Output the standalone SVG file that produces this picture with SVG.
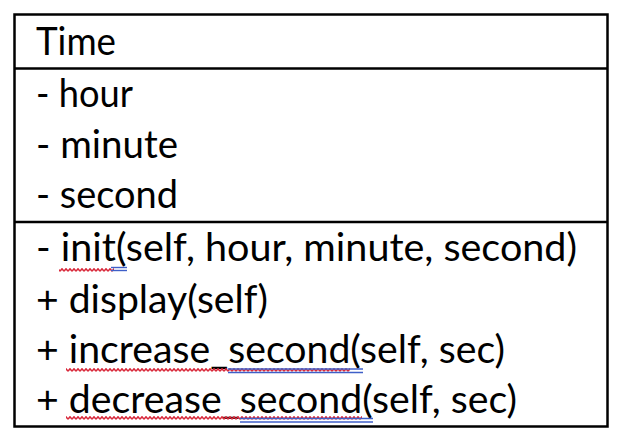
<svg xmlns="http://www.w3.org/2000/svg" width="620" height="446" viewBox="0 0 620 446">
  <defs>
    <style>
      .frame { fill: none; stroke: #000; stroke-width: 2.5; }
      .rule { stroke: #000; stroke-width: 2.5; }
      text { font-family: Lato, "Open Sans", sans-serif; font-size: 38px; fill: #000; }
      .blue { stroke: #3f5fc8; stroke-width: 1.4; }
    </style>
    <!-- spell-check style wavy underline -->
    <pattern id="squiggle" width="4" height="4" patternUnits="userSpaceOnUse">
      <polyline points="0,3.2 2,0.8 4,3.2" fill="none" stroke="#d8283a" stroke-width="1.5"/>
    </pattern>
  </defs>
  <rect width="620" height="446" fill="#fff"/>

  <g id="class-time">
    <rect class="frame" x="14.5" y="14.5" width="593" height="412"/>
    <line class="rule" x1="14.5" y1="68.5" x2="607.5" y2="68.5"/>
    <line class="rule" x1="14.5" y1="222" x2="607.5" y2="222"/>

    <g id="name">
      <text x="36" y="55" textLength="80" lengthAdjust="spacingAndGlyphs">Time</text>
    </g>

    <g id="attributes">
      <text x="36" y="107" textLength="97" lengthAdjust="spacingAndGlyphs">- hour</text>
      <text x="36" y="158" textLength="142" lengthAdjust="spacingAndGlyphs">- minute</text>
      <text x="36" y="208" textLength="142" lengthAdjust="spacingAndGlyphs">- second</text>
    </g>

    <g id="methods">
      <text x="36" y="261" textLength="541" lengthAdjust="spacingAndGlyphs">- init(self, hour, minute, second)</text>
      <text x="36" y="313" textLength="232" lengthAdjust="spacingAndGlyphs">+ display(self)</text>
      <text x="36" y="363" textLength="469" lengthAdjust="spacingAndGlyphs">+ increase_second(self, sec)</text>
      <text x="36" y="413" textLength="481" lengthAdjust="spacingAndGlyphs">+ decrease_second(self, sec)</text>
    </g>

    <g id="proofing-marks">
      <rect x="59" y="268" width="55" height="4" fill="url(#squiggle)"/>
      <line class="blue" x1="111" y1="267.5" x2="127" y2="267.5"/>
      <line class="blue" x1="111" y1="270.5" x2="127" y2="270.5"/>

      <rect x="66" y="368" width="284" height="4" fill="url(#squiggle)"/>
      <line class="blue" x1="228" y1="369" x2="363" y2="369"/>
      <line class="blue" x1="228" y1="372.5" x2="363" y2="372.5"/>

      <rect x="66" y="416" width="296" height="4" fill="url(#squiggle)"/>
      <line class="blue" x1="240" y1="418.5" x2="373" y2="418.5"/>
      <line class="blue" x1="240" y1="422" x2="373" y2="422"/>
    </g>
  </g>
</svg>
